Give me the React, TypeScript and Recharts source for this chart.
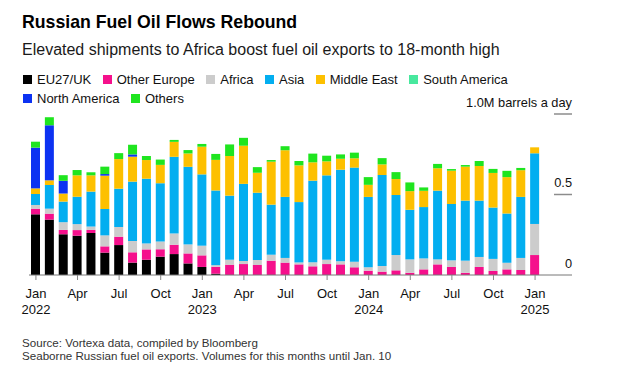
import { Bar, BarChart, XAxis, YAxis } from 'recharts';

const months = [
  'Jan 2022', 'Feb 2022', 'Mar 2022', 'Apr 2022', 'May 2022', 'Jun 2022', 'Jul 2022', 'Aug 2022', 'Sep 2022', 'Oct 2022', 'Nov 2022', 'Dec 2022',
  'Jan 2023', 'Feb 2023', 'Mar 2023', 'Apr 2023', 'May 2023', 'Jun 2023', 'Jul 2023', 'Aug 2023', 'Sep 2023', 'Oct 2023', 'Nov 2023', 'Dec 2023',
  'Jan 2024', 'Feb 2024', 'Mar 2024', 'Apr 2024', 'May 2024', 'Jun 2024', 'Jul 2024', 'Aug 2024', 'Sep 2024', 'Oct 2024', 'Nov 2024', 'Dec 2024',
  'Jan 2025',
];

// million barrels a day
const euUk = [
  0.377, 0.344, 0.253, 0.244, 0.261, 0.139, 0.186, 0.077, 0.095, 0.114, 0.13, 0.072,
  0.05, 0.008, 0, 0, 0, 0, 0, 0, 0, 0, 0, 0,
  0, 0, 0, 0, 0, 0, 0, 0, 0, 0, 0, 0,
  0,
];
const otherEurope = [
  0.035, 0.037, 0.027, 0.035, 0.019, 0.039, 0.052, 0.064, 0.064, 0.046, 0.058, 0.062,
  0.072, 0.043, 0.064, 0.068, 0.062, 0.089, 0.077, 0.066, 0.054, 0.068, 0.066, 0.048,
  0.027, 0.021, 0.029, 0.014, 0.035, 0.066, 0.05, 0.014, 0.05, 0.025, 0.035, 0.031,
  0.124,
];
const africa = [
  0.023, 0.031, 0.048, 0.037, 0.021, 0.068, 0.06, 0.07, 0.037, 0.048, 0.07, 0.056,
  0.06, 0.01, 0.031, 0.019, 0.031, 0.037, 0.029, 0.012, 0.025, 0.027, 0.019, 0.035,
  0.021, 0.035, 0.095, 0.083, 0.068, 0.031, 0.041, 0.075, 0.062, 0.075, 0.041, 0.075,
  0.193,
];
const asia = [
  0.068, 0.147, 0.128, 0.17, 0.217, 0.164, 0.238, 0.369, 0.402, 0.362, 0.476, 0.482,
  0.443, 0.464, 0.398, 0.479, 0.418, 0.311, 0.379, 0.375, 0.507, 0.524, 0.569, 0.584,
  0.437, 0.565, 0.373, 0.308, 0.319, 0.427, 0.35, 0.373, 0.35, 0.319, 0.306, 0.379,
  0.439,
];
const middleEast = [
  0.035, 0.029, 0.05, 0.133, 0.101, 0.207, 0.184, 0.155, 0.116, 0.114, 0.093, 0.083,
  0.172, 0.19, 0.246, 0.237, 0.124, 0.267, 0.29, 0.228, 0.114, 0.087, 0.068, 0.058,
  0.075, 0.066, 0.099, 0.116, 0.101, 0.139, 0.207, 0.211, 0.215, 0.215, 0.226, 0.166,
  0.037,
];
const southAmerica = [
  0, 0, 0, 0, 0, 0, 0, 0, 0, 0, 0, 0,
  0, 0, 0, 0, 0, 0, 0, 0, 0, 0, 0, 0,
  0, 0, 0, 0, 0, 0, 0, 0, 0, 0, 0, 0,
  0,
];
const northAmerica = [
  0.253, 0.342, 0.079, 0, 0, 0.01, 0, 0.014, 0, 0, 0, 0,
  0, 0, 0, 0, 0, 0, 0, 0, 0, 0, 0, 0,
  0, 0, 0, 0, 0, 0, 0, 0, 0, 0, 0, 0,
  0,
];
const others = [
  0.037, 0.05, 0.035, 0.033, 0.019, 0.046, 0.037, 0.06, 0.025, 0.033, 0.012, 0.021,
  0.017, 0.037, 0.072, 0.049, 0.035, 0.01, 0.025, 0.027, 0.054, 0.035, 0.027, 0.035,
  0.048, 0.039, 0.043, 0.054, 0.021, 0.027, 0.01, 0.01, 0.031, 0.025, 0.039, 0.014,
  0,
];

const yTicks = [0, 0.5, 1];
const quarterMonths = ['Jan', 'Apr', 'Jul', 'Oct'];

const series = [
  { key: 'eu', name: 'EU27/UK', color: '#000000', values: euUk },
  { key: 'otherEurope', name: 'Other Europe', color: '#f5108c', values: otherEurope },
  { key: 'africa', name: 'Africa', color: '#cccccc', values: africa },
  { key: 'asia', name: 'Asia', color: '#03aef0', values: asia },
  { key: 'middleEast', name: 'Middle East', color: '#fdc000', values: middleEast },
  { key: 'southAmerica', name: 'South America', color: '#48e89e', values: southAmerica },
  { key: 'northAmerica', name: 'North America', color: '#0c32f2', values: northAmerica },
  { key: 'others', name: 'Others', color: '#1fe51f', values: others },
];

const data = months.map((m, i) => {
  const row: Record<string, number | string> = { month: m };
  series.forEach((s) => {
    row[s.key] = s.values[i];
  });
  return row;
});

const FONT = '"Liberation Sans", Arial, sans-serif';
const PLOT_RIGHT = 572;
const BASE_Y = 275;

function MonthTick(props: any) {
  const { x, payload } = props;
  const [mon, year] = String(payload.value).split(' ');
  if (!quarterMonths.includes(mon)) return null;
  return (
    <g>
      <line x1={x} x2={x} y1={BASE_Y} y2={BASE_Y + 5} stroke="#888" strokeWidth={1} />
      <text x={x} y={297.5} textAnchor="middle" fontSize={13} fill="#111" fontFamily={FONT}>
        {mon}
      </text>
      {mon === 'Jan' && (
        <text x={x} y={313.5} textAnchor="middle" fontSize={13} fill="#111" fontFamily={FONT}>
          {year}
        </text>
      )}
    </g>
  );
}

function ValueTick(props: any) {
  const { y, payload } = props;
  const v = Number(payload.value);
  const label = v === 1 ? '1.0M barrels a day' : v === 0 ? '0' : String(v);
  return (
    <g>
      {v !== 0 && (
        <line x1={PLOT_RIGHT - 18} x2={PLOT_RIGHT} y1={y} y2={y} stroke="#8c8c8c" strokeWidth={1.5} />
      )}
      <text x={PLOT_RIGHT} y={y - 7.5} textAnchor="end" fontSize={12.8} fill="#111" fontFamily={FONT}>
        {label}
      </text>
    </g>
  );
}

export default function App() {
  return (
    <div
      style={{
        position: 'absolute',
        left: 0,
        top: 0,
        width: 640,
        height: 372,
        background: '#fff',
        fontFamily: FONT,
      }}
    >
      <div style={{ position: 'absolute', left: 22, top: 14, fontSize: 17.7, lineHeight: '17.7px', fontWeight: 700, color: '#000', whiteSpace: 'nowrap' }}>
        Russian Fuel Oil Flows Rebound
      </div>
      <div style={{ position: 'absolute', left: 22, top: 41.5, fontSize: 16, lineHeight: '16px', color: '#1a1a1a', whiteSpace: 'nowrap' }}>
        Elevated shipments to Africa boost fuel oil exports to 18-month high
      </div>
      <div
        style={{
          position: 'absolute',
          left: 23,
          top: 69.5,
          width: 510,
          display: 'flex',
          flexWrap: 'wrap',
          fontSize: 13,
          lineHeight: '19px',
          color: '#111',
        }}
      >
        {series.map((s) => (
          <div key={s.key} style={{ display: 'flex', alignItems: 'center', marginRight: 11.5, whiteSpace: 'nowrap' }}>
            <span style={{ display: 'inline-block', width: 9, height: 9, background: s.color, marginRight: 5 }} />
            {s.name}
          </div>
        ))}
      </div>

      <div style={{ position: 'absolute', left: 0, top: 0 }}>
        <BarChart
          width={640}
          height={372}
          data={data}
          margin={{ top: 114, right: 640 - PLOT_RIGHT, bottom: 0, left: 29 }}
          barSize={9}
        >
          <XAxis
            dataKey="month"
            height={97}
            interval={0}
            tickLine={false}
            axisLine={{ stroke: '#777', strokeWidth: 1 }}
            padding={{ left: 0, right: 30 }}
            tick={<MonthTick />}
          />
          <YAxis
            orientation="right"
            mirror
            type="number"
            domain={[0, 1]}
            ticks={yTicks}
            interval={0}
            axisLine={false}
            tickLine={false}
            tick={ValueTick}
          />
          {series.map((s) => (
            <Bar key={s.key} dataKey={s.key} name={s.name} stackId="a" fill={s.color} isAnimationActive={false} />
          ))}
        </BarChart>
      </div>

      <div style={{ position: 'absolute', left: 22, top: 336, fontSize: 11.6, lineHeight: '14px', color: '#333', whiteSpace: 'nowrap' }}>
        Source: Vortexa data, compiled by Bloomberg
      </div>
      <div style={{ position: 'absolute', left: 22, top: 349, fontSize: 11.6, lineHeight: '14px', color: '#333', whiteSpace: 'nowrap' }}>
        Seaborne Russian fuel oil exports. Volumes for this months until Jan. 10
      </div>
    </div>
  );
}
